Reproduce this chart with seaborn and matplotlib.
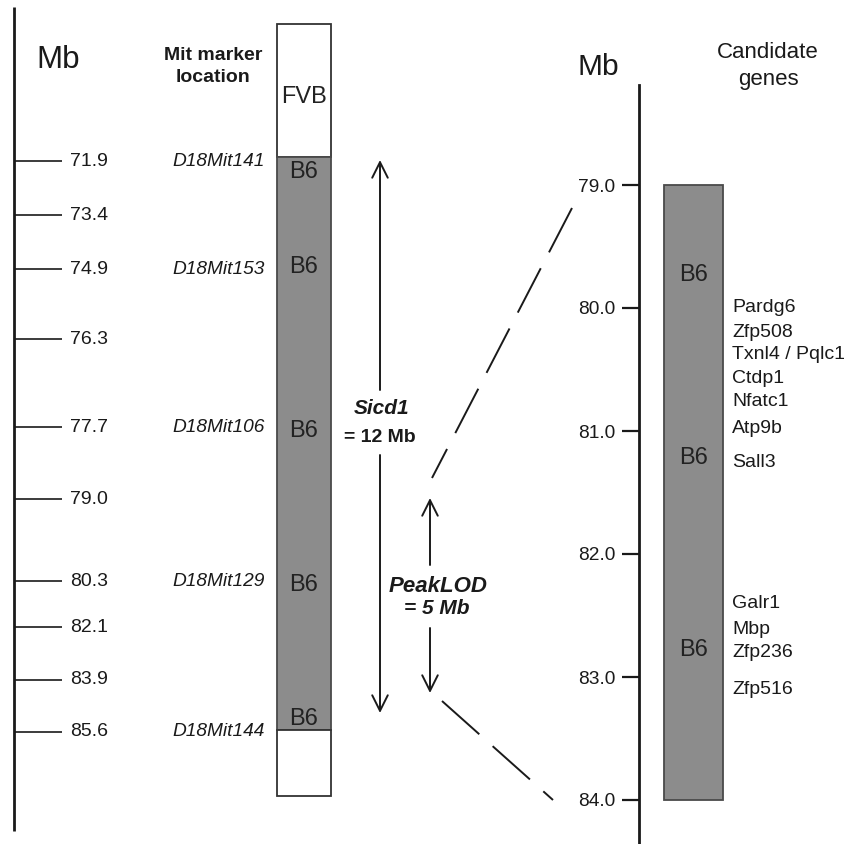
import matplotlib
matplotlib.use("Agg")
import matplotlib.pyplot as plt
import seaborn as sns

sns.set_theme(style="white")
plt.rcParams["font.family"] = ["Liberation Sans", "DejaVu Sans"]

# ---- Left: congenic interval on chromosome 18 -------------------------
map_mb = [71.9, 73.4, 74.9, 76.3, 77.7, 79.0, 80.3, 82.1, 83.9, 85.6]
# schematic row (vertical drawing position) for each map position
map_rows = [161, 215, 269, 339, 427, 499, 581, 627, 680, 732]

markers = ["D18Mit141", "D18Mit153", "D18Mit106", "D18Mit129", "D18Mit144"]
marker_mb = [71.9, 74.9, 77.7, 80.3, 85.6]

# congenic bar: strain of each segment and its top/bottom rows
segment_strain = ["FVB", "B6", "FVB"]
segment_rows = [(24, 157), (157, 730), (730, 796)]
strain_labels = ["FVB", "B6", "B6", "B6", "B6", "B6"]
strain_label_rows = [97, 172, 267, 431, 585, 719]

# QTL intervals
sicd1_label = ["Sicd1", "= 12 Mb"]
peak_label = ["PeakLOD", "= 5 Mb"]

# ---- Right: peak LOD region with candidate genes ----------------------
region_start, region_end = 79.0, 84.0
zoom_ticks = [79.0, 80.0, 81.0, 82.0, 83.0, 84.0]
region_b6_mb = [79.73, 81.22, 82.78]
genes = ["Pardg6", "Zfp508", "Txnl4 / Pqlc1", "Ctdp1", "Nfatc1", "Atp9b",
         "Sall3", "Galr1", "Mbp", "Zfp236", "Zfp516"]
gene_mb = [80.0, 80.2, 80.38, 80.57, 80.76, 80.98, 81.26,
           82.40, 82.61, 82.80, 83.10]

W, H = 849, 844
ink = "#1a1a1a"
gray = "#8c8c8c"
edge = "#4a4a4a"

fig = plt.figure(figsize=(W / 100, H / 100), dpi=100)
fig.patch.set_facecolor("white")

# full-figure canvas for the schematic map (units = pixels, y downward)
ax = fig.add_axes([0, 0, 1, 1])
ax.set_xlim(0, W)
ax.set_ylim(H, 0)
ax.axis("off")

row_of = dict(zip(map_mb, map_rows))

# chromosome axis with position ticks
ax.plot([14, 14], [7, 831], color=ink, lw=2.0, solid_capstyle="butt")
ax.hlines(map_rows, 14, 62, color=ink, lw=1.2)
for mb, r in zip(map_mb, map_rows):
    ax.text(70, r, f"{mb:.1f}", ha="left", va="center", fontsize=14, color=ink)
ax.text(58, 60, "Mb", ha="center", va="center", fontsize=22.5, color=ink)

# marker names
ax.text(213, 56, "Mit marker", ha="center", va="center", fontsize=14,
        fontweight="bold", color=ink)
ax.text(213, 77, "location", ha="center", va="center", fontsize=14,
        fontweight="bold", color=ink)
for name, mb in zip(markers, marker_mb):
    ax.text(265, row_of[mb], name, ha="right", va="center", fontsize=13.8,
            style="italic", color=ink)

# congenic bar
for strain, (top, bot) in zip(segment_strain, segment_rows):
    ax.bar(304, bot - top, width=54, bottom=top,
           color=gray if strain == "B6" else "white",
           edgecolor=edge if strain == "B6" else "#333333", lw=1.3, zorder=2)
for lab, r in zip(strain_labels, strain_label_rows):
    ax.text(304, r, lab, ha="center", va="center", fontsize=17,
            color="#222222", zorder=3)

arrow = dict(arrowstyle="->", lw=1.4, color=ink, mutation_scale=28,
             shrinkA=0, shrinkB=0)

# Sicd1 interval arrow
ax.annotate("", xy=(380, 160), xytext=(380, 390), arrowprops=arrow)
ax.annotate("", xy=(380, 713), xytext=(380, 455), arrowprops=arrow)
ax.text(382, 408, sicd1_label[0], ha="center", va="center", fontsize=15,
        fontweight="bold", style="italic", color=ink)
ax.text(380, 437, sicd1_label[1], ha="center", va="center", fontsize=14,
        fontweight="bold", color=ink)

# peak LOD arrow
ax.annotate("", xy=(430, 498), xytext=(430, 565), arrowprops=arrow)
ax.annotate("", xy=(430, 693), xytext=(430, 628), arrowprops=arrow)
ax.text(438, 587, peak_label[0], ha="center", va="center", fontsize=16,
        fontweight="bold", style="italic", color=ink)
ax.text(437, 608, peak_label[1], ha="center", va="center", fontsize=15,
        fontweight="bold", style="italic", color=ink)

# dashed lines to the enlarged region
dash = (0, (25.7, 9.2))
ax.plot([572, 432], [208, 478], color=ink, lw=1.4, ls=dash)
ax.plot([442, 553], [701, 800], color=ink, lw=1.4, ls=dash)

# ---- enlarged region axis (Mb scale) ---------------------------------
px_per_mb = 123.0
y_top = region_start - 185 / px_per_mb
y_bot = region_end + (H - 800) / px_per_mb
x0 = 639
axr = fig.add_axes([x0 / W, 0, (W - x0) / W, 1])
axr.set_facecolor("none")
axr.set_xlim(0, W - x0)
axr.set_ylim(y_bot, y_top)
for s in ["top", "right", "bottom"]:
    axr.spines[s].set_visible(False)
axr.spines["left"].set_linewidth(2.0)
axr.spines["left"].set_color(ink)
axr.spines["left"].set_bounds(region_start - 100 / px_per_mb, y_bot)
axr.set_xticks([])
axr.set_yticks(zoom_ticks)
axr.set_yticklabels([f"{t:.1f}" for t in zoom_ticks])
axr.tick_params(axis="y", direction="out", length=12, width=1.6, color=ink,
                labelsize=13.8, labelcolor=ink, pad=5, left=True)
axr.grid(False)

axr.bar(54.5, region_end - region_start, width=59, bottom=region_start,
        color=gray, edgecolor=edge, lw=1.3)
for mb in region_b6_mb:
    axr.text(54.5, mb, "B6", ha="center", va="center", fontsize=17,
             color="#222222")
for g, mb in zip(genes, gene_mb):
    axr.text(93, mb, g, ha="left", va="center", fontsize=14, color=ink)

ax.text(598, 67, "Mb", ha="center", va="center", fontsize=21.5, color=ink)
ax.text(768, 52, "Candidate", ha="center", va="center", fontsize=16, color=ink)
ax.text(768, 79, "genes", ha="center", va="center", fontsize=16, color=ink)

fig.savefig("out.png", dpi=100, facecolor="white")
